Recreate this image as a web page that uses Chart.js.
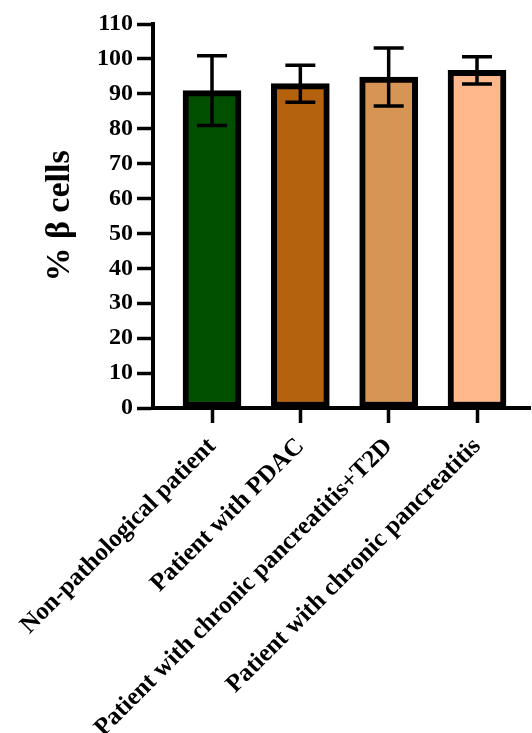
<!DOCTYPE html>
<html>
<head>
<meta charset="utf-8">
<script src="https://cdn.jsdelivr.net/npm/chart.js@4.4.1/dist/chart.umd.min.js"></script>
<style>
  html, body { margin: 0; padding: 0; background: #fff; }
  #chart { display: block; }
</style>
</head>
<body>
<canvas id="chart" width="532" height="733"></canvas>
<script>
// Groups, mean percentage of beta cells and standard deviation
const categories = [
  'Non-pathological patient',
  'Patient with PDAC',
  'Patient with chronic pancreatitis+T2D',
  'Patient with chronic pancreatitis'
];
const meanValues = [90.9, 92.9, 94.8, 96.7];
const sdValues = [10.0, 5.3, 8.3, 3.9];
const barColors = ['#005000', '#B5620E', '#D69455', '#FFB88C'];
const yTicks = [0, 10, 20, 30, 40, 50, 60, 70, 80, 90, 100, 110];

const SERIF = '"Liberation Serif", "Times New Roman", serif';

// Error bars (mean ± SD) with caps, drawn on top of the bars
const errorBars = {
  id: 'errorBars',
  afterDatasetsDraw(chart) {
    const { ctx, scales: { y } } = chart;
    const meta = chart.getDatasetMeta(0);
    ctx.save();
    ctx.strokeStyle = '#000';
    ctx.lineWidth = 3.5;
    ctx.lineCap = 'butt';
    meta.data.forEach((bar, i) => {
      const cx = bar.x;
      const hi = y.getPixelForValue(meanValues[i] + sdValues[i]);
      const lo = y.getPixelForValue(meanValues[i] - sdValues[i]);
      const half = 15;
      ctx.beginPath();
      ctx.moveTo(cx, hi); ctx.lineTo(cx, lo);
      ctx.moveTo(cx - half, hi); ctx.lineTo(cx + half, hi);
      ctx.moveTo(cx - half, lo); ctx.lineTo(cx + half, lo);
      ctx.stroke();
    });
    ctx.restore();
  }
};

new Chart(document.getElementById('chart'), {
  type: 'bar',
  data: {
    datasets: [{
      data: meanValues.map((v, i) => ({ x: i, y: v })),
      backgroundColor: barColors,
      borderColor: '#000',
      borderWidth: 6,
      borderSkipped: false,
      barThickness: 58
    }]
  },
  options: {
    responsive: false,
    animation: false,
    layout: { padding: { top: 24, right: 2, bottom: 0, left: 0 } },
    plugins: { legend: { display: false }, tooltip: { enabled: false } },
    scales: {
      x: {
        type: 'linear',
        offset: false,
        min: -0.668,
        max: 3.6,
        afterBuildTicks(scale) {
          scale.ticks = categories.map((_, i) => ({ value: i }));
        },
        afterFit(scale) {
          scale.height = 325;
          scale.paddingLeft = 0;
          scale.paddingRight = 0;
        },
        border: { display: true, color: '#000', width: 4 },
        grid: {
          offset: false,
          drawOnChartArea: false,
          drawTicks: true,
          tickLength: 15,
          tickWidth: 3.5,
          tickColor: '#000'
        },
        ticks: {
          autoSkip: false,
          minRotation: 45,
          maxRotation: 45,
          padding: 9,
          color: '#000',
          font: { family: SERIF, size: 25, weight: 'bold' },
          callback: (v) => categories[v] ?? ''
        }
      },
      y: {
        min: 0,
        max: 110,
        afterBuildTicks(scale) {
          scale.ticks = yTicks.map(v => ({ value: v }));
        },
        afterFit(scale) {
          scale.width = 153;
          scale.paddingTop = 0;
          scale.paddingBottom = 0;
        },
        border: { display: true, color: '#000', width: 4 },
        grid: {
          drawOnChartArea: false,
          drawTicks: true,
          tickLength: 16,
          tickWidth: 3.5,
          tickColor: '#000'
        },
        ticks: {
          padding: 4,
          color: '#000',
          font: { family: SERIF, size: 24, weight: 'bold' }
        },
        title: {
          display: true,
          text: '% β cells',
          color: '#000',
          padding: { top: 40, bottom: 0 },
          font: { family: SERIF, size: 34, weight: 'bold' }
        }
      }
    }
  },
  plugins: [errorBars]
});
</script>
</body>
</html>
